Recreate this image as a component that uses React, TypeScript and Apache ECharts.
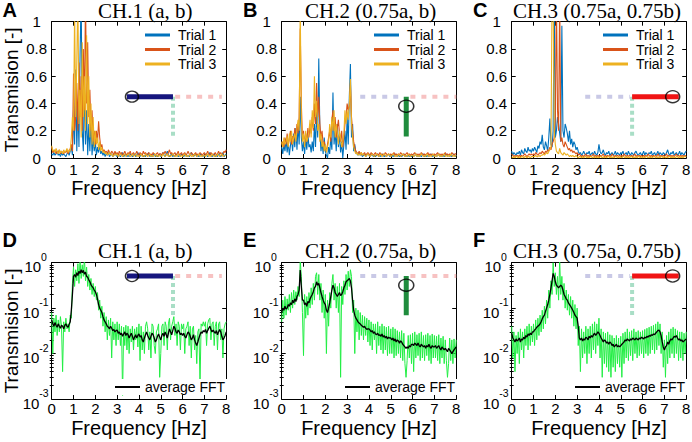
import React, { useEffect, useRef } from "react";
import * as echarts from "echarts";

// ---------- sampling grid (FFT bins, 0.05 Hz) ----------
const N_POINTS = 161;
const FREQ_STEP = 0.05;
const FREQ: number[] = Array.from({ length: N_POINTS }, (_, i) => Math.round(i * FREQ_STEP * 100) / 100);

const X_TICK_MIN = 0;
const X_TICK_MAX = 8;
const LOG_MINOR_TICKS = [
  0.002, 0.003, 0.004, 0.005, 0.006, 0.007, 0.008, 0.009,
  0.02, 0.03, 0.04, 0.05, 0.06, 0.07, 0.08, 0.09,
  0.2, 0.3, 0.4, 0.5, 0.6, 0.7, 0.8, 0.9,
];

const PANEL_LETTERS = ["A", "B", "C", "D", "E", "F"];
const CHANNEL_TITLES = ["CH.1 (a, b)", "CH.2 (0.75a, b)", "CH.3 (0.75a, 0.75b)"];
const TRIAL_NAMES = ["Trial 1", "Trial 2", "Trial 3"];
const TRIAL_COLORS = ["#0072BD", "#D95319", "#EDB120"];
const AVG_NAME = "average FFT";

// ---------- CH.1 linear transmission, three trials ----------
const CH1_T1 = [
  0.03,0.02,0.04,0.02,0.03,0.05,0.02,0.03,0.01,0.04,0.02,0.03,0.02,0.01,0.03,0.04,0.02,0.05,0.08,0.02,
  0.35,0.10,0.65,0.05,0.40,0.08,0.75,1.20,0.20,0.05,0.55,0.10,0.35,0.02,0.25,0.05,0.30,0.02,0.15,0.05,
  0.12,0.02,0.08,0.04,0.10,0.03,0.05,0.02,0.04,0.01,0.03,0.02,0.04,0.01,0.02,0.03,0.01,0.02,0.04,0.02,
  0.01,0.03,0.02,0.01,0.02,0.04,0.01,0.02,0.03,0.01,0.02,0.01,0.03,0.02,0.01,0.02,0.03,0.01,0.02,0.04,
  0.02,0.01,0.03,0.02,0.01,0.02,0.01,0.03,0.02,0.04,0.01,0.02,0.01,0.02,0.03,0.01,0.02,0.01,0.02,0.03,
  0.01,0.02,0.04,0.02,0.01,0.03,0.05,0.02,0.01,0.02,0.03,0.01,0.02,0.01,0.03,0.02,0.01,0.02,0.01,0.03,
  0.02,0.01,0.02,0.03,0.01,0.02,0.01,0.02,0.04,0.02,0.01,0.02,0.03,0.01,0.02,0.01,0.02,0.03,0.01,0.02,
  0.01,0.03,0.02,0.01,0.02,0.04,0.02,0.01,0.02,0.03,0.01,0.02,0.01,0.03,0.02,0.01,0.02,0.04,0.01,0.02,
  0.03,
];
const CH1_T2 = [
  0.08,0.04,0.05,0.06,0.03,0.05,0.04,0.06,0.03,0.05,0.04,0.03,0.05,0.04,0.06,0.03,0.05,0.07,0.10,0.05,
  0.62,0.20,0.30,0.55,0.20,0.70,0.30,0.60,0.20,0.80,0.35,1.20,0.40,0.85,0.30,0.50,0.20,0.35,0.12,0.20,
  0.10,0.20,0.12,0.27,0.15,0.08,0.10,0.05,0.06,0.04,0.05,0.03,0.06,0.04,0.03,0.05,0.04,0.02,0.05,0.03,
  0.04,0.02,0.05,0.03,0.04,0.02,0.03,0.05,0.03,0.02,0.04,0.03,0.05,0.02,0.03,0.04,0.02,0.03,0.05,0.03,
  0.02,0.04,0.03,0.02,0.05,0.03,0.04,0.02,0.03,0.04,0.02,0.03,0.02,0.04,0.03,0.02,0.03,0.04,0.02,0.03,
  0.03,0.02,0.04,0.03,0.05,0.03,0.02,0.04,0.06,0.03,0.04,0.02,0.03,0.04,0.02,0.03,0.05,0.02,0.03,0.04,
  0.02,0.03,0.04,0.02,0.03,0.05,0.03,0.02,0.04,0.03,0.02,0.03,0.04,0.02,0.03,0.02,0.04,0.03,0.02,0.03,
  0.04,0.02,0.03,0.05,0.03,0.02,0.04,0.03,0.02,0.03,0.04,0.02,0.03,0.05,0.03,0.04,0.02,0.03,0.05,0.04,
  0.06,
];
const CH1_T3 = [
  0.09,0.05,0.06,0.04,0.07,0.05,0.03,0.06,0.04,0.05,0.03,0.06,0.04,0.05,0.07,0.04,0.06,0.05,0.15,0.30,
  0.20,1.10,0.30,0.70,1.20,0.25,0.50,0.15,0.85,0.30,0.60,0.20,0.90,0.25,0.60,0.15,0.40,0.10,0.30,0.08,
  0.20,0.10,0.15,0.06,0.12,0.05,0.08,0.04,0.05,0.03,0.04,0.02,0.03,0.04,0.02,0.03,0.01,0.02,0.03,0.02,
  0.03,0.01,0.02,0.03,0.02,0.01,0.02,0.03,0.01,0.02,0.03,0.02,0.01,0.02,0.03,0.01,0.02,0.03,0.01,0.02,
  0.01,0.02,0.03,0.01,0.02,0.01,0.03,0.02,0.01,0.02,0.03,0.01,0.02,0.01,0.02,0.03,0.01,0.02,0.01,0.02,
  0.02,0.01,0.03,0.02,0.01,0.02,0.03,0.01,0.02,0.01,0.02,0.03,0.02,0.01,0.02,0.01,0.03,0.02,0.01,0.02,
  0.01,0.02,0.03,0.01,0.02,0.01,0.02,0.03,0.01,0.02,0.01,0.03,0.02,0.01,0.02,0.03,0.01,0.02,0.01,0.02,
  0.02,0.01,0.02,0.03,0.01,0.02,0.01,0.03,0.02,0.01,0.02,0.01,0.03,0.02,0.01,0.02,0.03,0.01,0.02,0.02,
  0.02,
];

// ---------- CH.2 linear transmission ----------
const CH2_T1 = [
  0.08,0.03,0.10,0.05,0.14,0.04,0.12,0.02,0.09,0.15,0.05,0.18,0.08,0.22,0.06,0.25,0.10,0.45,0.15,0.05,
  0.12,0.03,0.15,0.06,0.18,0.08,0.10,0.04,0.12,0.05,0.25,0.08,0.35,0.15,0.73,0.20,0.05,0.12,0.03,0.15,
  0.05,0.02,0.00,0.08,0.03,0.15,0.06,0.48,0.10,0.20,0.05,0.25,0.08,0.18,0.04,0.12,0.00,0.10,0.20,0.06,
  0.30,0.10,0.45,0.69,0.15,0.25,0.05,0.10,0.04,0.03,0.02,0.04,0.02,0.03,0.01,0.02,0.03,0.01,0.02,0.03,
  0.02,0.01,0.02,0.03,0.01,0.02,0.01,0.02,0.03,0.01,0.02,0.01,0.03,0.02,0.01,0.02,0.01,0.02,0.03,0.01,
  0.02,0.01,0.02,0.01,0.03,0.02,0.01,0.02,0.01,0.02,0.01,0.02,0.03,0.01,0.02,0.01,0.02,0.01,0.02,0.01,
  0.02,0.01,0.02,0.03,0.01,0.02,0.01,0.02,0.01,0.02,0.03,0.01,0.02,0.01,0.02,0.01,0.02,0.03,0.01,0.02,
  0.01,0.02,0.01,0.02,0.03,0.01,0.02,0.01,0.02,0.01,0.02,0.03,0.01,0.02,0.01,0.02,0.01,0.02,0.03,0.01,
  0.02,
];
const CH2_T2 = [
  0.10,0.12,0.08,0.15,0.10,0.18,0.09,0.14,0.20,0.10,0.16,0.12,0.22,0.15,0.25,0.18,0.30,0.95,0.40,0.15,
  0.20,0.10,0.18,0.12,0.22,0.15,0.25,0.18,0.30,0.20,0.40,0.25,0.55,0.30,0.45,0.25,0.15,0.20,0.10,0.12,
  0.08,0.05,0.10,0.15,0.20,0.12,0.28,0.35,0.20,0.30,0.15,0.22,0.28,0.18,0.12,0.20,0.08,0.15,0.25,0.30,
  0.40,0.35,0.38,0.55,0.30,0.20,0.12,0.08,0.05,0.04,0.03,0.05,0.03,0.04,0.02,0.03,0.04,0.02,0.03,0.04,
  0.03,0.02,0.04,0.03,0.02,0.03,0.04,0.02,0.03,0.02,0.04,0.03,0.02,0.03,0.02,0.04,0.03,0.02,0.03,0.02,
  0.03,0.02,0.03,0.04,0.02,0.03,0.02,0.03,0.02,0.04,0.03,0.02,0.03,0.02,0.03,0.04,0.02,0.03,0.02,0.03,
  0.02,0.03,0.04,0.02,0.03,0.02,0.03,0.02,0.04,0.03,0.02,0.03,0.02,0.03,0.04,0.02,0.03,0.02,0.03,0.02,
  0.03,0.02,0.03,0.04,0.02,0.03,0.02,0.03,0.02,0.03,0.04,0.02,0.03,0.02,0.03,0.02,0.04,0.03,0.02,0.03,
  0.03,
];
const CH2_T3 = [
  0.12,0.08,0.15,0.10,0.12,0.16,0.08,0.18,0.12,0.20,0.10,0.15,0.18,0.12,0.22,0.28,0.20,1.10,0.30,0.12,
  0.18,0.08,0.20,0.12,0.15,0.20,0.28,0.15,0.35,0.22,0.60,0.30,0.42,0.20,0.25,0.12,0.18,0.08,0.12,0.05,
  0.10,0.04,0.08,0.12,0.25,0.15,0.30,0.20,0.35,0.15,0.25,0.18,0.10,0.20,0.15,0.08,0.12,0.18,0.35,0.25,
  0.35,0.28,0.40,0.58,0.25,0.15,0.08,0.05,0.03,0.04,0.02,0.03,0.02,0.04,0.02,0.03,0.02,0.01,0.02,0.03,
  0.02,0.01,0.02,0.03,0.02,0.01,0.02,0.03,0.02,0.01,0.02,0.03,0.01,0.02,0.03,0.02,0.01,0.02,0.03,0.02,
  0.01,0.02,0.03,0.02,0.01,0.02,0.01,0.03,0.02,0.01,0.02,0.03,0.02,0.01,0.02,0.01,0.03,0.02,0.01,0.02,
  0.02,0.01,0.02,0.03,0.01,0.02,0.01,0.02,0.03,0.02,0.01,0.02,0.01,0.03,0.02,0.01,0.02,0.01,0.02,0.03,
  0.01,0.02,0.01,0.02,0.03,0.01,0.02,0.01,0.02,0.03,0.01,0.02,0.01,0.02,0.01,0.03,0.02,0.01,0.02,0.01,
  0.02,
];

// ---------- CH.3 linear transmission ----------
const CH3_T1 = [
  0.05,0.02,0.04,0.03,0.02,0.04,0.03,0.05,0.02,0.06,0.04,0.03,0.07,0.05,0.04,0.08,0.05,0.06,0.04,0.07,
  0.05,0.08,0.06,0.04,0.09,0.07,0.12,0.10,0.17,0.08,0.06,0.12,0.09,0.05,0.15,0.29,0.10,0.08,0.20,1.20,
  0.15,0.20,0.30,0.25,0.18,0.12,0.97,0.20,0.15,0.25,0.22,0.18,0.12,0.20,0.10,0.14,0.08,0.12,0.10,0.06,
  0.08,0.05,0.03,0.04,0.02,0.03,0.05,0.03,0.02,0.04,0.03,0.05,0.02,0.03,0.04,0.02,0.05,0.03,0.02,0.04,
  0.10,0.05,0.03,0.04,0.06,0.03,0.02,0.04,0.03,0.05,0.02,0.03,0.04,0.02,0.03,0.05,0.02,0.04,0.03,0.02,
  0.04,0.03,0.05,0.02,0.03,0.04,0.02,0.05,0.03,0.02,0.04,0.03,0.02,0.04,0.05,0.03,0.02,0.03,0.04,0.02,
  0.03,0.05,0.02,0.04,0.03,0.02,0.04,0.03,0.05,0.02,0.03,0.04,0.02,0.03,0.05,0.02,0.04,0.03,0.02,0.04,
  0.03,0.02,0.04,0.06,0.03,0.02,0.04,0.03,0.05,0.02,0.03,0.04,0.02,0.03,0.05,0.02,0.04,0.03,0.02,0.04,
  0.05,
];
const CH3_T2 = [
  0.03,0.02,0.01,0.02,0.01,0.02,0.01,0.02,0.01,0.02,0.01,0.02,0.03,0.02,0.01,0.02,0.03,0.02,0.03,0.02,
  0.03,0.02,0.04,0.03,0.02,0.03,0.04,0.03,0.05,0.04,0.03,0.05,0.04,0.06,0.05,0.08,0.06,0.10,0.12,0.15,
  0.30,1.20,0.35,0.20,1.20,0.12,0.15,0.10,0.08,0.12,0.10,0.08,0.06,0.07,0.05,0.06,0.04,0.05,0.04,0.03,
  0.04,0.02,0.03,0.02,0.01,0.02,0.01,0.02,0.03,0.01,0.02,0.01,0.02,0.01,0.02,0.03,0.01,0.02,0.01,0.02,
  0.01,0.02,0.01,0.02,0.03,0.01,0.02,0.01,0.02,0.01,0.02,0.01,0.03,0.02,0.01,0.02,0.01,0.02,0.01,0.02,
  0.01,0.02,0.01,0.03,0.02,0.01,0.02,0.01,0.02,0.01,0.02,0.01,0.02,0.03,0.01,0.02,0.01,0.02,0.01,0.02,
  0.01,0.02,0.01,0.02,0.01,0.03,0.02,0.01,0.02,0.01,0.02,0.01,0.02,0.01,0.03,0.02,0.01,0.02,0.01,0.02,
  0.01,0.02,0.03,0.01,0.02,0.01,0.02,0.01,0.02,0.01,0.02,0.03,0.01,0.02,0.01,0.02,0.01,0.02,0.01,0.02,
  0.01,
];
const CH3_T3 = [
  0.01,0.00,0.01,0.00,0.01,0.01,0.00,0.01,0.00,0.01,0.01,0.00,0.01,0.01,0.00,0.01,0.01,0.00,0.01,0.01,
  0.01,0.01,0.02,0.01,0.01,0.02,0.01,0.02,0.02,0.03,0.02,0.03,0.04,0.03,0.05,0.06,0.08,1.20,1.20,0.20,
  0.10,0.05,0.04,0.03,0.07,0.04,0.03,0.02,0.04,0.03,0.02,0.03,0.02,0.01,0.02,0.01,0.02,0.01,0.01,0.02,
  0.01,0.00,0.01,0.01,0.00,0.01,0.00,0.01,0.01,0.00,0.01,0.00,0.01,0.01,0.00,0.01,0.00,0.01,0.00,0.01,
  0.00,0.01,0.01,0.00,0.01,0.00,0.01,0.00,0.01,0.01,0.00,0.01,0.00,0.01,0.00,0.01,0.01,0.00,0.01,0.00,
  0.01,0.00,0.01,0.01,0.00,0.01,0.00,0.01,0.00,0.01,0.01,0.00,0.01,0.00,0.01,0.00,0.01,0.01,0.00,0.01,
  0.00,0.01,0.00,0.01,0.01,0.00,0.01,0.00,0.01,0.00,0.01,0.01,0.00,0.01,0.00,0.01,0.00,0.01,0.01,0.00,
  0.01,0.00,0.01,0.00,0.01,0.01,0.00,0.01,0.00,0.01,0.00,0.01,0.01,0.00,0.01,0.00,0.01,0.00,0.01,0.01,
  0.01,
];

// ---------- log panels: all trials (green) and their average (black) ----------
const CH1_ALL = [
  0.080,0.010,0.060,0.030,0.070,0.025,0.055,0.030,0.065,0.040,0.004,0.050,0.030,0.060,0.035,0.045,0.030,0.070,0.060,0.350,
  0.800,0.300,0.700,0.400,0.950,0.350,1.200,0.450,0.900,0.500,1.300,0.400,0.800,0.300,0.550,0.250,0.450,0.200,0.350,0.180,
  0.300,0.150,0.220,0.090,0.150,0.060,0.110,0.040,0.080,0.030,0.065,0.020,0.055,0.025,0.060,0.008,0.050,0.020,0.045,0.015,
  0.050,0.020,0.045,0.015,0.040,0.0012,0.038,0.015,0.042,0.012,0.040,0.010,0.035,0.018,0.040,0.012,0.035,0.020,0.038,0.014,
  0.045,0.007,0.040,0.012,0.030,0.010,0.040,0.050,0.035,0.012,0.030,0.008,0.045,0.040,0.015,0.010,0.030,0.035,0.045,0.003,
  0.010,0.040,0.045,0.015,0.050,0.040,0.012,0.045,0.060,0.020,0.040,0.050,0.065,0.025,0.045,0.015,0.050,0.040,0.012,0.045,
  0.035,0.045,0.010,0.035,0.040,0.050,0.015,0.040,0.008,0.035,0.040,0.012,0.025,0.006,0.030,0.035,0.002,0.045,0.040,0.050,
  0.040,0.050,0.015,0.045,0.055,0.060,0.020,0.045,0.050,0.015,0.040,0.050,0.012,0.045,0.050,0.020,0.035,0.008,0.035,0.045,
  0.050,
];
const CH1_AVG = [
  0.055,0.045,0.040,0.048,0.042,0.038,0.045,0.040,0.036,0.042,0.040,0.035,0.042,0.045,0.040,0.038,0.044,0.050,0.090,0.200,
  0.500,0.550,0.480,0.600,0.520,0.650,0.580,0.700,0.600,0.680,0.560,0.620,0.500,0.480,0.420,0.380,0.330,0.300,0.280,0.250,
  0.230,0.200,0.160,0.120,0.100,0.090,0.080,0.065,0.055,0.050,0.045,0.040,0.038,0.035,0.040,0.036,0.032,0.034,0.030,0.032,
  0.033,0.028,0.030,0.026,0.028,0.024,0.027,0.030,0.025,0.028,0.026,0.022,0.025,0.028,0.024,0.020,0.023,0.026,0.022,0.025,
  0.027,0.023,0.025,0.020,0.018,0.022,0.026,0.030,0.025,0.022,0.020,0.024,0.028,0.026,0.022,0.018,0.020,0.024,0.027,0.023,
  0.020,0.025,0.028,0.024,0.030,0.026,0.022,0.028,0.035,0.030,0.026,0.032,0.040,0.036,0.030,0.028,0.033,0.030,0.026,0.028,
  0.025,0.028,0.024,0.022,0.026,0.030,0.028,0.024,0.020,0.022,0.026,0.020,0.017,0.015,0.018,0.022,0.026,0.030,0.028,0.032,
  0.030,0.034,0.028,0.032,0.036,0.040,0.034,0.030,0.033,0.030,0.028,0.032,0.026,0.030,0.034,0.030,0.024,0.020,0.022,0.025,
  0.030,
];
const CH2_ALL = [
  0.050,0.150,0.060,0.180,0.070,0.160,0.090,0.200,0.080,0.220,0.100,0.250,0.120,0.230,0.150,0.300,0.180,1.100,0.500,0.080,
  0.009,0.200,0.060,0.180,0.070,0.220,0.100,0.280,0.120,0.350,0.150,0.500,0.600,0.200,0.550,0.150,0.350,0.080,0.250,0.060,
  0.200,0.010,0.150,0.040,0.220,0.100,0.350,0.550,0.150,0.350,0.100,0.300,0.080,0.350,0.003,0.300,0.120,0.400,0.200,0.550,
  0.250,0.650,0.300,0.700,0.500,0.080,0.150,0.010,0.100,0.030,0.090,0.020,0.080,0.025,0.070,0.020,0.065,0.025,0.060,0.018,
  0.055,0.015,0.050,0.012,0.045,0.020,0.045,0.010,0.050,0.015,0.040,0.012,0.045,0.010,0.040,0.012,0.038,0.009,0.040,0.010,
  0.035,0.010,0.038,0.008,0.035,0.009,0.032,0.010,0.030,0.008,0.032,0.007,0.028,0.006,0.003,0.007,0.025,0.008,0.026,0.006,
  0.028,0.004,0.030,0.008,0.026,0.009,0.028,0.007,0.030,0.008,0.025,0.007,0.026,0.009,0.028,0.007,0.025,0.006,0.027,0.008,
  0.025,0.008,0.024,0.007,0.026,0.006,0.022,0.008,0.024,0.006,0.020,0.007,0.003,0.006,0.022,0.007,0.020,0.006,0.021,0.008,
  0.020,
];
const CH2_AVG = [
  0.080,0.100,0.090,0.110,0.095,0.100,0.120,0.110,0.130,0.120,0.150,0.130,0.160,0.140,0.180,0.200,0.250,0.690,0.300,0.150,
  0.150,0.120,0.130,0.110,0.140,0.130,0.160,0.180,0.200,0.230,0.280,0.300,0.380,0.320,0.350,0.280,0.220,0.180,0.150,0.130,
  0.120,0.090,0.080,0.100,0.130,0.180,0.250,0.320,0.280,0.220,0.200,0.180,0.200,0.220,0.190,0.200,0.230,0.280,0.320,0.380,
  0.400,0.420,0.450,0.400,0.280,0.150,0.090,0.070,0.060,0.055,0.050,0.047,0.045,0.042,0.040,0.038,0.040,0.036,0.034,0.035,
  0.035,0.033,0.030,0.032,0.028,0.030,0.027,0.026,0.028,0.025,0.026,0.024,0.027,0.023,0.025,0.022,0.024,0.021,0.023,0.022,
  0.022,0.020,0.022,0.019,0.021,0.018,0.020,0.019,0.017,0.019,0.018,0.016,0.015,0.014,0.013,0.014,0.013,0.015,0.014,0.016,
  0.016,0.015,0.017,0.016,0.015,0.017,0.015,0.014,0.016,0.015,0.014,0.015,0.013,0.015,0.014,0.016,0.014,0.013,0.015,0.014,
  0.014,0.015,0.013,0.014,0.015,0.013,0.012,0.014,0.013,0.012,0.013,0.012,0.011,0.013,0.012,0.011,0.010,0.011,0.012,0.013,
  0.014,
];
const CH3_ALL = [
  0.040,0.008,0.030,0.004,0.025,0.010,0.030,0.006,0.035,0.012,0.030,0.008,0.035,0.015,0.040,0.012,0.045,0.015,0.040,0.018,
  0.045,0.015,0.055,0.020,0.060,0.025,0.070,0.030,0.090,0.035,0.110,0.045,0.150,0.060,0.250,0.100,0.400,0.200,1.000,0.300,
  0.600,0.200,0.500,0.150,1.200,0.200,0.500,0.150,0.350,0.100,0.250,0.090,0.200,0.070,0.180,0.060,0.150,0.040,0.120,0.035,
  0.100,0.015,0.040,0.004,0.035,0.008,0.030,0.010,0.040,0.006,0.035,0.010,0.040,0.008,0.045,0.012,0.050,0.010,0.045,0.015,
  0.060,0.008,0.035,0.003,0.030,0.006,0.028,0.005,0.030,0.004,0.026,0.003,0.025,0.005,0.022,0.004,0.025,0.006,0.022,0.005,
  0.024,0.003,0.028,0.006,0.030,0.008,0.035,0.007,0.030,0.009,0.032,0.007,0.035,0.010,0.030,0.008,0.032,0.009,0.030,0.010,
  0.032,0.008,0.034,0.010,0.036,0.009,0.038,0.010,0.040,0.012,0.042,0.010,0.045,0.012,0.050,0.015,0.045,0.010,0.030,0.005,
  0.020,0.003,0.025,0.006,0.030,0.008,0.035,0.010,0.038,0.008,0.035,0.010,0.032,0.007,0.030,0.008,0.030,0.007,0.028,0.010,
  0.030,
];
const CH3_AVG = [
  0.028,0.022,0.020,0.018,0.021,0.019,0.020,0.022,0.018,0.021,0.020,0.023,0.021,0.025,0.023,0.027,0.025,0.028,0.026,0.030,
  0.030,0.033,0.035,0.038,0.040,0.042,0.045,0.050,0.058,0.065,0.070,0.085,0.100,0.120,0.150,0.200,0.280,0.400,0.580,0.500,
  0.380,0.320,0.300,0.280,0.300,0.320,0.300,0.250,0.200,0.180,0.160,0.150,0.130,0.120,0.110,0.100,0.090,0.080,0.070,0.065,
  0.060,0.040,0.022,0.020,0.022,0.019,0.021,0.020,0.023,0.022,0.020,0.024,0.022,0.025,0.023,0.026,0.028,0.025,0.027,0.030,
  0.028,0.025,0.022,0.020,0.018,0.020,0.019,0.017,0.018,0.016,0.018,0.017,0.015,0.016,0.014,0.015,0.016,0.014,0.015,0.014,
  0.015,0.016,0.017,0.018,0.020,0.019,0.021,0.020,0.019,0.021,0.020,0.022,0.021,0.020,0.022,0.021,0.020,0.022,0.021,0.023,
  0.022,0.021,0.023,0.022,0.024,0.023,0.025,0.024,0.026,0.025,0.027,0.026,0.028,0.030,0.032,0.033,0.030,0.025,0.018,0.014,
  0.012,0.014,0.015,0.018,0.016,0.019,0.021,0.020,0.022,0.024,0.023,0.025,0.022,0.020,0.021,0.019,0.020,0.018,0.019,0.020,
  0.021,
];

// ---------- schematic inset (data coordinates) ----------
const LIN_LEVELS = [0.45, 0.157]; // bar level, stem end
const LOG_LEVELS = [0.51, 0.07];
const CH1_BAR_X = [3.45, 5.56];
const CH1_DASH_X = [5.66, 7.8];
const CH1_STEM_X = 5.56;
const CH1_RING_X = 3.68;
const CH2_LEFT_DASH_X = [3.6, 5.5];
const CH2_RIGHT_DASH_X = [5.9, 8.0];
const CH2_STEM_X = 5.71;
const CH2_RING_Y = [0.38, 0.32];
const CH3_DASH_X = [3.37, 5.42];
const CH3_BAR_X = [5.52, 7.66];
const CH3_STEM_X = 5.52;
const CH3_RING_X = 7.38;

const LIN_TRIALS = [
  [CH1_T1, CH1_T2, CH1_T3],
  [CH2_T1, CH2_T2, CH2_T3],
  [CH3_T1, CH3_T2, CH3_T3],
];
const LOG_ALL = [CH1_ALL, CH2_ALL, CH3_ALL];
const LOG_AVG = [CH1_AVG, CH2_AVG, CH3_AVG];

const SANS = "'Liberation Sans', Arial, Helvetica, sans-serif";
const SERIF = "'Liberation Serif', 'Times New Roman', serif";

const GRID_LEFTS = [51.7, 281.7, 511.7];
const GRID_WIDTH = 174.5;
const ROW_TOPS = [21.7, 262.7];
const GRID_HEIGHT = 136.3;

const TICK_FONT = 15;
const NAME_FONT = 20;

const pairs = (vals: number[]) => vals.slice(0, N_POINTS).map((v, i) => [FREQ[i], v]);

function seg(data: number[][], color: string, width: number, dash: any, xi: number, yi: number) {
  return {
    type: "line",
    data,
    xAxisIndex: xi,
    yAxisIndex: yi,
    symbol: "none",
    silent: true,
    z: 5,
    lineStyle: { color, width, type: dash, cap: "butt" },
    itemStyle: { color },
  };
}
function ring(pt: number[], size: number[], xi: number, yi: number) {
  return {
    type: "scatter",
    data: [pt],
    xAxisIndex: xi,
    yAxisIndex: yi,
    symbol: "circle",
    symbolSize: size,
    silent: true,
    z: 6,
    itemStyle: { color: "rgba(0,0,0,0)", borderColor: "#000", borderWidth: 1.4 },
  };
}

const NAVY = "#16167e";
const RED = "#f01414";
const PINK = "#f7c2c2";
const LAVENDER = "#c9c9e6";
const MINT = "#a9dec6";
const GREEN_BAR = "#1f8c3d";
const DASH_H = [5, 6];
const DASH_V = [4, 3];

function schematic(ch: number, row: number, xi: number, yi: number) {
  const lv = row === 0 ? LIN_LEVELS : LOG_LEVELS;
  const y = lv[0];
  const yb = lv[1];
  const out: any[] = [];
  if (ch === 0) {
    out.push(seg([[CH1_STEM_X, y], [CH1_STEM_X, yb]], MINT, 4, DASH_V, xi, yi));
    out.push(seg([[CH1_DASH_X[0], y], [CH1_DASH_X[1], y]], PINK, 4, DASH_H, xi, yi));
    out.push(seg([[CH1_BAR_X[0], y], [CH1_BAR_X[1], y]], NAVY, 5, "solid", xi, yi));
    out.push(ring([CH1_RING_X, y], [13, 11], xi, yi));
  } else if (ch === 1) {
    out.push(seg([[CH2_LEFT_DASH_X[0], y], [CH2_LEFT_DASH_X[1], y]], LAVENDER, 4, DASH_H, xi, yi));
    out.push(seg([[CH2_RIGHT_DASH_X[0], y], [CH2_RIGHT_DASH_X[1], y]], PINK, 4, DASH_H, xi, yi));
    out.push(seg([[CH2_STEM_X, y], [CH2_STEM_X, yb]], GREEN_BAR, 5, "solid", xi, yi));
    out.push(ring([CH2_STEM_X, CH2_RING_Y[row]], [15, 12], xi, yi));
  } else {
    out.push(seg([[CH3_STEM_X, y], [CH3_STEM_X, yb]], MINT, 4, DASH_V, xi, yi));
    out.push(seg([[CH3_DASH_X[0], y], [CH3_DASH_X[1], y]], LAVENDER, 4, DASH_H, xi, yi));
    out.push(seg([[CH3_BAR_X[0], y], [CH3_BAR_X[1], y]], RED, 5, "solid", xi, yi));
    out.push(ring([CH3_RING_X, y], [14, 12], xi, yi));
  }
  return out;
}

function buildOption() {
  const grid: any[] = [];
  const xAxis: any[] = [];
  const yAxis: any[] = [];
  const extraY: any[] = [];
  const series: any[] = [];
  const title: any[] = [];
  const legend: any[] = [];
  const black = "#000";

  for (let row = 0; row < 2; row++) {
    for (let ch = 0; ch < 3; ch++) {
      const g = row * 3 + ch;
      grid.push({
        left: GRID_LEFTS[ch], top: ROW_TOPS[row], width: GRID_WIDTH, height: GRID_HEIGHT,
        containLabel: false, outerBoundsMode: "none",
      });
      const axLine = { show: true, onZero: false, lineStyle: { color: black, width: 1 } };
      const tick = { show: true, inside: true, length: 4, lineStyle: { color: black, width: 1 } };
      xAxis.push({
        type: "value", gridIndex: g, min: X_TICK_MIN, max: X_TICK_MAX, interval: 1, position: "bottom",
        axisLine: axLine, axisTick: tick, splitLine: { show: false },
        axisLabel: {
          color: black, fontSize: TICK_FONT, lineHeight: 15, fontFamily: SANS, margin: row === 0 ? 4 : 2,
        },
        name: "Frequency [Hz]", nameLocation: "middle", nameGap: row === 0 ? 20 : 18.5,
        nameMoveOverlap: false,
        nameTextStyle: { color: black, fontSize: NAME_FONT, lineHeight: 20, fontFamily: SANS },
      });
      xAxis.push({
        type: "value", gridIndex: g, min: X_TICK_MIN, max: X_TICK_MAX, interval: 1, position: "top",
        axisLine: axLine, axisTick: tick, splitLine: { show: false }, axisLabel: { show: false },
      });
      const yName = ch === 0 ? {
        name: "Transmision [-]", nameLocation: "middle", nameGap: 31, nameMoveOverlap: false,
        nameTextStyle: { color: black, fontSize: 19, fontFamily: SANS },
      } : {};
      if (row === 0) {
        yAxis.push({
          type: "value", gridIndex: g, min: 0, max: 1, interval: 0.2, position: "left",
          axisLine: axLine, axisTick: tick, splitLine: { show: false },
          axisLabel: { color: black, fontSize: TICK_FONT, fontFamily: SANS, align: "center", margin: 15 },
          ...yName,
        });
        yAxis.push({
          type: "value", gridIndex: g, min: 0, max: 1, interval: 0.2, position: "right",
          axisLine: axLine, axisTick: tick, splitLine: { show: false }, axisLabel: { show: false },
        });
      } else {
        yAxis.push({
          type: "log", logBase: 10, gridIndex: g, min: 0.001, max: 1, position: "left",
          axisLine: axLine, axisTick: tick, splitLine: { show: false },
          axisLabel: {
            align: "center", margin: 16, color: black,
            formatter: (v: number) => `{b|10}{s|${Math.round(Math.log10(v))}}`,
            rich: {
              b: { fontSize: TICK_FONT, fontFamily: SANS, color: black, padding: [8, 0, 0, 0], verticalAlign: "bottom" },
              s: { fontSize: 10.5, fontFamily: SANS, color: black, verticalAlign: "top" },
            },
          },
          ...yName,
        });
        yAxis.push({
          type: "log", logBase: 10, gridIndex: g, min: 0.001, max: 1, position: "right",
          axisLine: axLine, axisTick: tick, splitLine: { show: false }, axisLabel: { show: false },
        });
        for (const pos of ["left", "right"]) {
          extraY.push({
            type: "log", logBase: 10, gridIndex: g, min: 0.001, max: 1, position: pos,
            axisLine: { show: false }, splitLine: { show: false }, axisLabel: { show: false },
            axisTick: { show: true, inside: true, length: 2, customValues: LOG_MINOR_TICKS, lineStyle: { color: black, width: 1 } },
          });
        }
      }
      const xi = 2 * g;
      const yi = 2 * g;
      if (row === 0) {
        LIN_TRIALS[ch].forEach((vals, k) => {
          series.push({
            type: "line", name: TRIAL_NAMES[k], data: pairs(vals), xAxisIndex: xi, yAxisIndex: yi,
            symbol: "none", clip: true, z: 2 + k * 0.1,
            lineStyle: { color: TRIAL_COLORS[k], width: 1.1 }, itemStyle: { color: TRIAL_COLORS[k] },
          });
        });
        legend.push({
          orient: "vertical", left: [145, 374, 603][ch], top: 28, padding: 0, itemGap: 0.5,
          itemWidth: 25, itemHeight: 3, icon: "rect", selectedMode: false, data: TRIAL_NAMES,
          textStyle: { color: black, fontSize: 14, fontFamily: SANS, padding: [0, 0, 0, 3] },
        });
      } else {
        series.push({
          type: "line", name: "trials", data: pairs(LOG_ALL[ch]), xAxisIndex: xi, yAxisIndex: yi,
          symbol: "none", clip: true, z: 2,
          lineStyle: { color: "#22ee44", width: 1 }, itemStyle: { color: "#22ee44" },
        });
        series.push({
          type: "line", name: AVG_NAME, data: pairs(LOG_AVG[ch]), xAxisIndex: xi, yAxisIndex: yi,
          symbol: "none", clip: true, z: 3,
          lineStyle: { color: black, width: 1.3 }, itemStyle: { color: black },
        });
        legend.push({
          left: [113, 343, 573][ch], top: 379, padding: [1, 3, 1, 2], backgroundColor: "#fff",
          itemWidth: 25, itemHeight: 2, icon: "rect", selectedMode: false, data: [AVG_NAME],
          textStyle: { color: black, fontSize: 14, fontFamily: SANS, padding: [0, 0, 0, 0] },
        });
      }
      series.push(...schematic(ch, row, xi, yi));

      title.push({
        text: CHANNEL_TITLES[ch], left: [98, 305, 513][ch], top: row === 0 ? 0 : 240, padding: 0,
        textStyle: { fontFamily: SERIF, fontSize: 21, fontWeight: "normal", color: black },
      });
      title.push({
        text: PANEL_LETTERS[g], left: [2.5, 243, 473][ch], top: row === 0 ? 0 : 230, padding: 0,
        textStyle: { fontFamily: SANS, fontSize: 20, fontWeight: "bold", color: black },
      });
    }
  }

  return {
    animation: false,
    backgroundColor: "#fff",
    grid, xAxis, yAxis: [...yAxis, ...extraY], series, title, legend,
  };
}

export default function App() {
  const ref = useRef<HTMLDivElement>(null);
  useEffect(() => {
    if (!ref.current) return;
    const chart = echarts.init(ref.current, undefined, { renderer: "svg" });
    chart.setOption(buildOption() as any);
    return () => chart.dispose();
  }, []);
  return (
    <div
      ref={ref}
      style={{ position: "fixed", left: 0, top: 0, width: 692, height: 442, background: "#fff" }}
    />
  );
}
